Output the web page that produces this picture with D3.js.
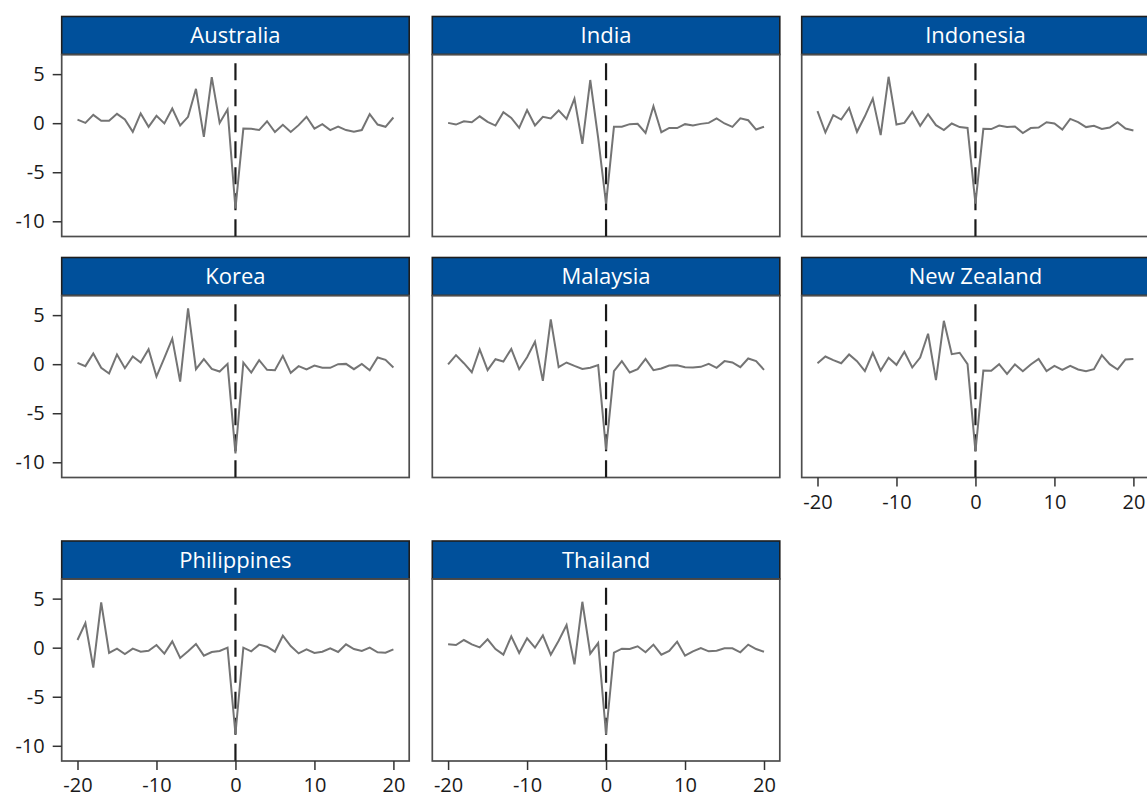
<!DOCTYPE html>
<html>
<head>
<meta charset="utf-8">
<script src="https://cdn.jsdelivr.net/npm/d3@7"></script>
<style>
  html, body { margin: 0; padding: 0; background: #fff; }
  svg { display: block; }
  text { font-family: "Open Sans", "Noto Sans", sans-serif; }
</style>
</head>
<body>
<svg id="chart" width="1147" height="796"></svg>
<script>
// Months relative to the event, -20 .. 20
const months = d3.range(-20, 21);

const countries = ["Australia", "India", "Indonesia", "Korea", "Malaysia", "New Zealand", "Philippines", "Thailand"];

const australia = [0.37, 0.03, 0.85, 0.24, 0.24, 0.95, 0.37, -0.88, 0.99, -0.37, 0.75, -0.03, 1.5, -0.24, 0.65, 3.5, -1.4, 4.7, 0.03, 1.4,
  -8.7, -0.55, -0.58, -0.7, 0.2, -0.9, -0.17, -0.9, -0.2, 0.65, -0.55, -0.1, -0.7, -0.34, -0.7, -0.88, -0.7, 0.92, -0.14, -0.37, 0.58];
const india = [0.03, -0.14, 0.2, 0.1, 0.7, 0.14, -0.24, 1.12, 0.54, -0.48, 1.33, -0.24, 0.65, 0.48, 1.3, 0.44, 2.5, -2.1, 4.4, -1.5,
  -8.2, -0.37, -0.37, -0.1, -0.07, -1.0, 1.73, -0.92, -0.48, -0.5, -0.1, -0.24, -0.07, 0.03, 0.48, -0.03, -0.37, 0.5, 0.3, -0.65, -0.37];
const indonesia = [1.22, -0.95, 0.82, 0.37, 1.56, -0.88, 0.7, 2.5, -1.22, 4.73, -0.14, 0.03, 1.16, -0.27, 0.92, -0.2, -0.7, -0.03, -0.4, -0.48,
  -8.2, -0.58, -0.6, -0.24, -0.4, -0.34, -1.0, -0.5, -0.44, 0.1, -0.03, -0.65, 0.44, 0.1, -0.4, -0.27, -0.58, -0.44, 0.1, -0.54, -0.75];
const korea = [0.14, -0.2, 1.09, -0.37, -0.95, 0.99, -0.41, 0.78, 0.17, 1.53, -1.26, 0.65, 2.6, -1.77, 5.7, -0.51, 0.51, -0.48, -0.75, 0.03,
  -9.1, 0.17, -0.85, 0.41, -0.58, -0.61, 0.85, -0.88, -0.2, -0.54, -0.14, -0.37, -0.37, 0.0, 0.03, -0.51, 0.03, -0.61, 0.68, 0.44, -0.34];
const malaysia = [-0.03, 0.92, 0.1, -0.82, 1.5, -0.61, 0.51, 0.27, 1.56, -0.51, 0.71, 2.28, -1.7, 4.56, -0.31, 0.17, -0.17, -0.48, -0.37, -0.1,
  -8.7, -0.71, 0.31, -0.85, -0.51, 0.54, -0.61, -0.44, -0.14, -0.1, -0.31, -0.34, -0.27, 0.03, -0.37, 0.31, 0.17, -0.31, 0.58, 0.31, -0.58];
const newZealand = [0.1, 0.78, 0.41, 0.1, 0.99, 0.31, -0.71, 1.16, -0.65, 0.65, -0.07, 1.26, -0.34, 0.68, 3.1, -1.63, 4.42, 1.02, 1.16, 0.0,
  -8.9, -0.65, -0.68, 0.0, -0.99, -0.03, -0.71, -0.03, 0.54, -0.71, -0.17, -0.58, -0.17, -0.54, -0.71, -0.51, 0.92, 0.0, -0.54, 0.48, 0.54];
const philippines = [0.78, 2.5, -2.03, 4.61, -0.54, -0.1, -0.64, -0.1, -0.41, -0.31, 0.27, -0.61, 0.64, -1.05, -0.37, 0.37, -0.81, -0.44, -0.34, 0.0,
  -8.8, 0.0, -0.37, 0.31, 0.1, -0.41, 1.22, 0.17, -0.58, -0.17, -0.54, -0.41, -0.07, -0.44, 0.34, -0.14, -0.34, 0.0, -0.47, -0.51, -0.17];
const thailand = [0.34, 0.27, 0.78, 0.34, 0.03, 0.85, -0.14, -0.71, 1.15, -0.54, 0.95, 0.0, 1.25, -0.71, 0.71, 2.3, -1.7, 4.68, -0.61, 0.47,
  -8.8, -0.51, -0.1, -0.14, 0.14, -0.47, 0.31, -0.71, -0.34, 0.61, -0.81, -0.37, -0.03, -0.37, -0.31, -0.07, -0.07, -0.47, 0.31, -0.14, -0.41];

const seriesValues = [australia, india, indonesia, korea, malaysia, newZealand, philippines, thailand];

const xTicks = [-20, -10, 0, 10, 20];
const yTicks = [-10, -5, 0, 5];

// Panel grid geometry
const colLeft = [61.7, 432.3, 801.7];
const rowTop = [16.5, 257.5, 541];
const panelW = 347.5;
const headerH = 38;
const plotH = 182;

const x = d3.scaleLinear().domain([-22, 22]).range([0, panelW]);
const y = d3.scaleLinear().domain([-11.55, 7.0]).range([plotH, 0]);

// Plain hyphen for negative tick values
const tickFmt = d => String(d);

const svg = d3.select("#chart");

const line = d3.line()
  .x((d, i) => x(months[i]))
  .y(d => y(d));

countries.forEach((name, idx) => {
  const col = idx % 3;
  const row = Math.floor(idx / 3);
  const g = svg.append("g")
    .attr("transform", `translate(${colLeft[col]},${rowTop[row]})`);

  // Title strip
  g.append("rect")
    .attr("x", 0).attr("y", 0)
    .attr("width", panelW).attr("height", headerH)
    .attr("fill", "#00509b")
    .attr("stroke", "#1e1e1e")
    .attr("stroke-width", 1.6);
  g.append("text")
    .attr("x", panelW / 2).attr("y", headerH / 2)
    .attr("dy", "0.36em")
    .attr("text-anchor", "middle")
    .attr("fill", "#fff")
    .attr("font-size", 22)
    .text(name);

  const plot = g.append("g").attr("transform", `translate(0,${headerH})`);

  // Plot frame
  plot.append("rect")
    .attr("x", 0).attr("y", 0)
    .attr("width", panelW).attr("height", plotH)
    .attr("fill", "none")
    .attr("stroke", "#4d4d4d")
    .attr("stroke-width", 1.7);

  // Event marker at month 0
  plot.append("line")
    .attr("x1", x(0)).attr("x2", x(0))
    .attr("y1", y(6.1)).attr("y2", y(-11.55))
    .attr("stroke", "#1a1a1a")
    .attr("stroke-width", 2.2)
    .attr("stroke-dasharray", "17,9");

  // Series line
  plot.append("path")
    .datum(seriesValues[idx])
    .attr("d", line)
    .attr("fill", "none")
    .attr("stroke", "#747474")
    .attr("stroke-width", 2)
    .attr("stroke-linejoin", "miter");

  // Left axis on the first column
  if (col === 0) {
    const ya = plot.append("g")
      .call(d3.axisLeft(y).tickValues(yTicks).tickSize(9).tickPadding(8).tickFormat(tickFmt));
    ya.select(".domain").remove();
    ya.selectAll(".tick line").attr("stroke", "#333").attr("stroke-width", 1.5);
    ya.selectAll(".tick text").attr("font-size", 20).attr("fill", "#1a1a1a")
      .attr("font-family", "'Open Sans', sans-serif");
  }

  // Bottom axis on panels with nothing beneath them
  if (row === 2 || (row === 1 && col === 2)) {
    const xa = plot.append("g")
      .attr("transform", `translate(0,${plotH})`)
      .call(d3.axisBottom(x).tickValues(xTicks).tickSize(9).tickPadding(8).tickFormat(tickFmt));
    xa.select(".domain").remove();
    xa.selectAll(".tick line").attr("stroke", "#333").attr("stroke-width", 1.5);
    xa.selectAll(".tick text").attr("font-size", 20).attr("fill", "#1a1a1a")
      .attr("font-family", "'Open Sans', sans-serif");
  }
});
</script>
</body>
</html>
